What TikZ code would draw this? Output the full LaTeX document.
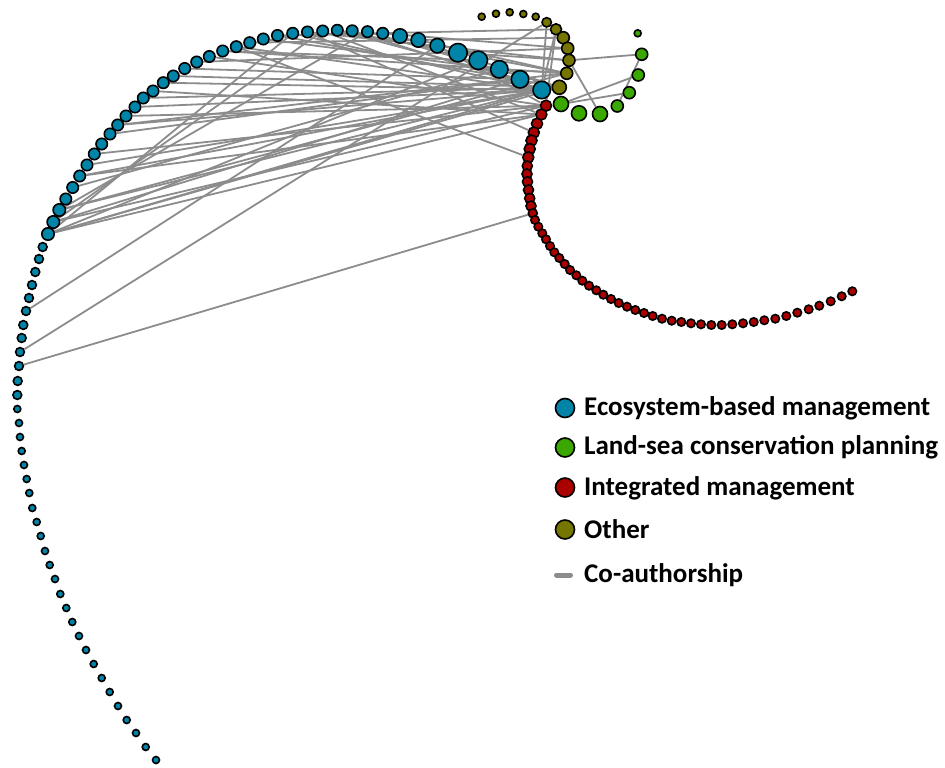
\documentclass[tikz,border=0pt]{standalone}
\usepackage{fontspec}
\setmainfont{Carlito}
\usetikzlibrary{backgrounds}

\definecolor{ebmblue}{RGB}{0,132,168}
\definecolor{lspgreen}{RGB}{58,168,0}
\definecolor{icmred}{RGB}{170,0,0}
\definecolor{otherolive}{RGB}{117,117,0}
\definecolor{edgegray}{RGB}{140,140,140}

\begin{document}
\begin{tikzpicture}[x=1pt,y=-1pt,
	dot/.style={circle,draw=black,line width=1.6pt,inner sep=0pt},
	ebm/.style={dot,fill=ebmblue},
	lsp/.style={dot,fill=lspgreen},
	icm/.style={dot,fill=icmred},
	oth/.style={dot,fill=otherolive},
	coauth/.style={draw=edgegray,line width=1.8pt},
	legtext/.style={font=\fontsize{27}{33}\selectfont\bfseries,inner sep=0pt,anchor=base west}]

\useasboundingbox (0,0) rectangle (945,768);

% ecosystem-based management
\foreach \x/\y/\r [count=\i] in {541.7/90/9.5,520/79.3/9.5,499.3/69.3/9.5,478.3/60.3/10,458/52.7/10,
	437.3/45.7/8,418.3/40/8,400/36/8,382.7/33.3/6.5,367.5/31.7/6.5,352.2/30.8/6.5,337.3/30.3/6.5,
	322.7/31/6.5,307.5/32/6.5,292.7/33.3/6.5,277.5/35.5/6.5,263.3/39/6.5,249.7/42.7/6.5,236.3/46.7/6.5,
	222.7/51/6.5,209.3/56.5/6.5,196.7/62/6.5,184.7/68.5/6.5,173.3/76/6.5,163.3/82.7/6.5,153/91/6.5,
	143.3/98/6.5,135/107/6.5,126/116/6.5,117.7/125/6.5,110/134/6.5,101.7/144/6.5,94.3/154/6.5,
	87/165/6.5,79.7/176/6.5,72.7/187.5/6.5,65.8/199/6.5,59.3/210/7,53.3/222/7,48/234/7,
	42.7/247/5.2,39/259/5.2,35.3/272/5.2,32/285/5.2,29/298/5.2,26/311/5.2,23.3/325/5.2,21.7/338/5.2,20/352/5.2,
	19/366/5.2,17.7/381/5.2,17.3/395/5.2,17.3/409/4.3,19/423/4.3,20/437/4.3,21.7/451/4.3,24/465/4.3,26.7/479/4.3,
	29.3/493/4.3,32.3/508/4.3,36.7/522/4.3,40.7/536/4.3,45/551/4.3,49.7/565/4.3,55/579/4.3,60.3/594/4.3,66.3/608/4.3,
	72.3/622/4.3,79/636/4.3,86/650/4.3,93.7/664/4.3,101.7/678/4.3,109.7/692/4.3,118/706/4.3,126.7/720/4.3,
	136/733/4.3,145.7/747/4.3,156/760/4.3}
{
	\node[ebm,minimum size=\r*2pt-1.6pt] (b\i) at (\x,\y) {};
}

% other
\foreach \x/\y/\r [count=\i] in {481.7/16.7/4.3,496/13.7/4.3,509.7/12.3/4.3,523.3/14/4.3,535.7/16.7/4.3,
	546.7/22.3/5.5,556/29.3/6.3,563.3/37.7/6.8,567.7/48.3/6.8,569/60.3/6.8,566.7/73.3/6.8,559.3/87.3/7.8}
{
	\node[oth,minimum size=\r*2pt-1.6pt] (o\i) at (\x,\y) {};
}

% land-sea conservation planning
\foreach \x/\y/\r [count=\i] in {561/104/8.3,579/113.3/8.3,600/114/8.3,617.3/106/6.8,629.3/92.7/6.8,
	638.3/75/6.8,641.7/54.3/6.8,637.7/33.3/4.3}
{
	\node[lsp,minimum size=\r*2pt-1.6pt] (g\i) at (\x,\y) {};
}

% integrated management
\foreach \x/\y/\r [count=\i] in {546/105.7/6.3,541.3/114.5/6.3,537/123.7/6.3,533.8/132.5/6.3,531.5/140.5/6.3,
	529.7/149/6.3,528.3/157.3/6.3,527.3/166/5.8,527/174/5.8,527.5/181.7/5.8,528.5/190/5.8,529.7/198.3/5.8,
	531/206/5.8,532.8/213.3/5.3,535/220/5,538.3/226.7/5,542.3/233.3/5,546/239.3/5,550/246/5,
	554.3/252.3/5,559.3/258/5,564.7/264/5,570/270/5,576.3/275.3/5,582.3/280.7/5,
	589/285.7/5,596.3/290.3/5,603.3/294.7/5,611/299/5,618.7/303/5,627/306.7/5,
	635.3/310/5,644/313/5,652.7/316/5,662/318.7/5,671.7/320.7/5,681.3/322/5,691/323.3/5,
	701/324.3/5,711.3/325/5,721.7/325/5,732.3/324.3/5,743/323.3/5,753.7/322/5,
	764.3/320.3/5,775.3/318.7/5,786.3/316/5,797.3/312.7/5,808.7/309.3/5,819.3/305.7/5,
	830.7/301.3/5,841.7/296.3/5,852.3/291.3/5}
{
	\node[icm,minimum size=\r*2pt-1.6pt] (r\i) at (\x,\y) {};
}

% co-authorship links
\begin{scope}[on background layer]
\foreach \a/\b in {b3/o11,b4/o12,b5/o10,b6/r1,b7/o11,b8/b1,b9/o9,b10/o12,b11/b1,b12/o11,
	b13/r2,b14/o10,b15/b1,b16/o12,b18/o8,b19/b1,b20/o11,b21/r1,b22/o9,b23/b2,b24/o12,b25/b1,
	b26/r2,b17/b3,b19/r7,b14/r4,b12/b2,b16/o7,b20/b4,
	b27/o12,b28/b1,b29/r1,b30/b1,b30/o11,b31/b2,b33/r1,b34/o12,b35/b1,b35/r2,b36/b3,
	b38/b1,b38/o11,b39/r1,b39/b2,b40/b1,b40/o12,b40/r2,b40/b4,
	b38/b10,b46/b6,b49/o6,b50/r14,b15/b40,b13/b39,
	o6/b1,o7/b1,o7/r1,o10/g3,g7/o10,g7/g4,g6/g1,g5/g1}
{
	\draw[coauth] (\a) -- (\b);
}
\end{scope}

% legend
\node[ebm,minimum size=19pt] (key-ebm) at (565,408) {};
\node[lsp,minimum size=19pt] (key-lsp) at (565,447.5) {};
\node[icm,minimum size=19pt] (key-icm) at (565,487.5) {};
\node[oth,minimum size=19pt] (key-oth) at (565,529.5) {};
\coordinate (key-co-a) at (556.5,575);
\coordinate (key-co-b) at (570.5,575);
\draw[coauth,line width=5pt,line cap=round] (key-co-a) -- (key-co-b);

\node[legtext] (txt-ebm) at (584,415) {Ecosystem-based management};
\node[legtext] (txt-lsp) at (584,454.5) {Land-sea conservation planning};
\node[legtext] (txt-icm) at (584,495) {Integrated management};
\node[legtext] (txt-oth) at (584,538) {Other};
\node[legtext] (txt-co) at (584,582) {Co-authorship};

\end{tikzpicture}
\end{document}
